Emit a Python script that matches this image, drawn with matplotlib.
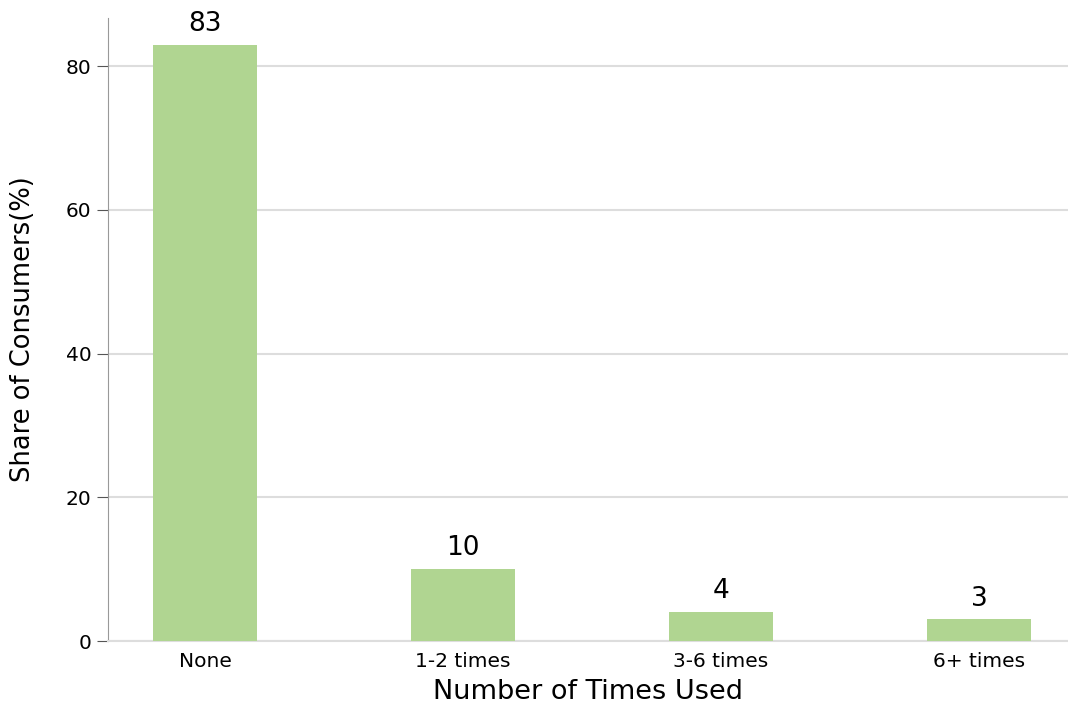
import matplotlib.pyplot as plt

categories = ["None", "1-2 times", "3-6 times", "6+ times"]
shares = [83, 10, 4, 3]

fig = plt.figure(figsize=(10.68, 7.09), dpi=100)
ax = fig.add_axes([0.1011, 0.0959, 0.8989, 0.8787])

x = range(len(categories))
ax.bar(x, shares, width=0.4, color="#b0d591", zorder=3)

# value labels above the bars
for xi, v in zip(x, shares):
    ax.text(xi, v + 1.1, str(v), ha="center", va="bottom", fontsize=19)

ax.set_xticks(list(x))
ax.set_xticklabels(categories, fontsize=14.5)
ax.set_yticks([0, 20, 40, 60, 80])
ax.tick_params(axis="y", labelsize=14.5, color="#555555", length=8, pad=4)
ax.tick_params(axis="x", length=0, pad=8)
ax.set_xlim(-0.376, 3.345)
ax.set_ylim(0, 86.7)

ax.grid(axis="y", color="#dddddd", linewidth=1.5, zorder=0)
for s in ["top", "right"]:
    ax.spines[s].set_visible(False)
ax.spines["left"].set_color("#999999")
ax.spines["bottom"].set_color("#dddddd")
ax.spines["bottom"].set_linewidth(1.5)

ax.set_xlabel("Number of Times Used", fontsize=19.5, labelpad=6)
ax.set_ylabel("Share of Consumers(%)", fontsize=18.5, labelpad=21)

fig.savefig("out.png", dpi=100)
